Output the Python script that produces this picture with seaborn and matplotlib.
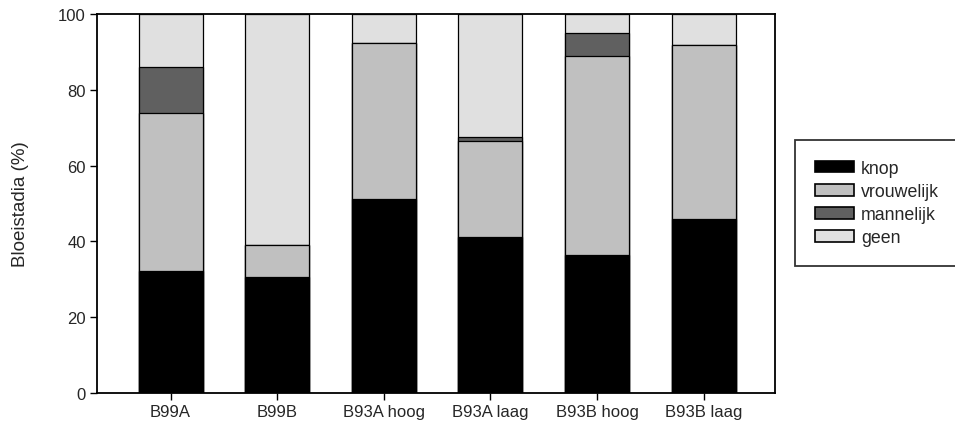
import matplotlib
matplotlib.use("Agg")
import matplotlib.pyplot as plt
import seaborn as sns
import numpy as np
import pandas as pd
from matplotlib.patches import Patch

categories = ["B99A", "B99B", "B93A hoog", "B93A laag", "B93B hoog", "B93B laag"]
knop = [32.2, 30.7, 51.2, 41.2, 36.4, 45.9]
vrouwelijk = [41.6, 8.3, 41.1, 25.2, 52.6, 45.8]
mannelijk = [12.1, 0.0, 0.0, 1.1, 5.9, 0.0]
geen = [14.1, 61.0, 7.7, 32.5, 5.1, 8.3]
series_names = ["knop", "vrouwelijk", "mannelijk", "geen"]
colors = {"knop": "#000000", "vrouwelijk": "#c0c0c0", "mannelijk": "#606060", "geen": "#e0e0e0"}

sns.set_style("ticks")
plt.rcParams["font.family"] = ["Liberation Sans", "DejaVu Sans"]

df = pd.DataFrame({"cat": categories, "knop": knop, "vrouwelijk": vrouwelijk,
                   "mannelijk": mannelijk, "geen": geen})
cum = df[series_names].cumsum(axis=1)

fig = plt.figure(figsize=(9.55, 4.27), dpi=100)
ax = fig.add_axes([0.1016, 0.0773, 0.7099, 0.8876])

for name in reversed(series_names):
    sns.barplot(x=df["cat"], y=cum[name], color=colors[name], width=0.6,
                edgecolor="black", linewidth=0.9, ax=ax, order=categories, saturation=1)

ax.set_ylim(0, 100)
ax.set_xlim(-0.69, 5.67)
ax.set_yticks([0, 20, 40, 60, 80, 100])
ax.set_xlabel("")
ax.set_ylabel("Bloeistadia (%)", fontsize=13.5)
ax.yaxis.set_label_coords(-0.100, 0.5)
ax.tick_params(axis="both", labelsize=12, direction="out", length=5, width=1, color="black", pad=3)
for s in ax.spines.values():
    s.set_linewidth(1.3)
    s.set_color("black")

handles = [Patch(facecolor=colors[n], edgecolor="black", linewidth=1.2) for n in series_names]
leg = fig.legend(handles, series_names, loc="upper left",
                 bbox_to_anchor=(0.8325, 0.3, 0.2, 0.370), mode="expand",
                 frameon=True, fancybox=False, edgecolor="black", fontsize=12.8,
                 handlelength=2.2, handleheight=0.62, handletextpad=0.4,
                 labelspacing=0.35, borderpad=1.12, borderaxespad=0)
leg.get_frame().set_linewidth(1.3)

fig.savefig("out.png", dpi=100)
